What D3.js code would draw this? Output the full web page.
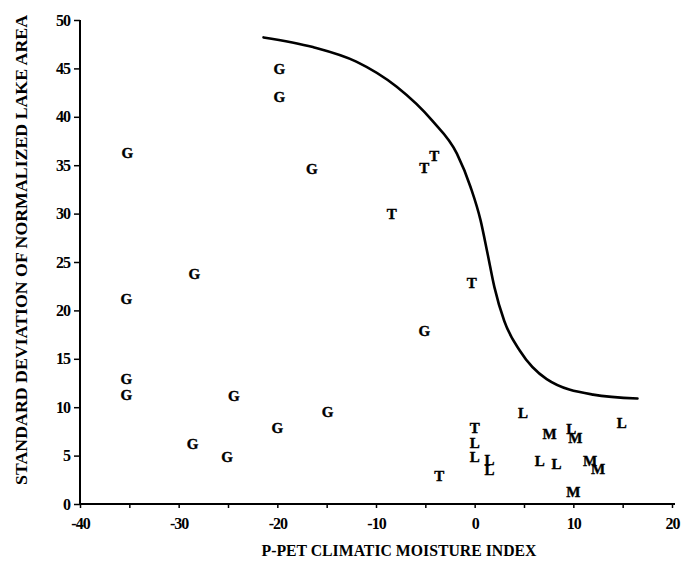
<!DOCTYPE html>
<html>
<head>
<meta charset="utf-8">
<script src="https://cdn.jsdelivr.net/npm/d3@7"></script>
<style>
  body { margin: 0; background: #fff; }
  text { font-family: "Liberation Serif", "DejaVu Serif", serif; font-weight: bold; }
</style>
</head>
<body>
<div id="chart"></div>
<script>
// site groups: letter, P-PET index, std dev of lake area
const letters = ["G","G","G","G","G","G","G","G","G","G","G","G","G","G",
                 "T","T","T","T","T","T",
                 "L","L","L","L","L","L","L","L","L",
                 "M","M","M","M","M"];
const moisture = [-19.8,-19.8,-35.2,-16.5,-28.4,-35.3,-5.1,-35.3,-35.3,-24.4,-14.9,-20.0,-28.6,-25.1,
                  -4.1,-5.1,-8.4,-0.3,0,-3.6,
                  4.9,0,0,1.5,1.5,6.6,8.3,9.8,14.9,
                  7.6,10.2,11.7,12.5,10.0];
const stdDev = [45.0,42.1,36.3,34.6,23.8,21.2,17.9,12.9,11.3,11.2,9.5,7.9,6.2,4.9,
                36.0,34.7,30.0,22.9,7.9,2.9,
                9.4,6.3,4.9,4.6,3.5,4.5,4.2,7.8,8.4,
                7.3,6.8,4.5,3.6,1.3];

// hand-drawn envelope curve
const curveX = [-21.4,-16.4,-12,-7.9,-4.3,-1.8,-0.4,0.6,1.3,2.0,3.0,4.6,7.3,12,16.5];
const curveY = [48.2,47.2,45.7,43.1,39.6,36.2,32.7,29.3,25.9,22.4,18.9,15.8,12.9,11.3,10.9];

const xTicks = [-40,-30,-20,-10,0,10,20];
const yTicks = [0,5,10,15,20,25,30,35,40,45,50];

const width = 687, height = 565;
const margin = { top: 20, right: 15, bottom: 61, left: 80 };

const svg = d3.select('#chart')
  .append('svg')
  .attr('width', width)
  .attr('height', height);

const x = d3.scaleLinear()
  .domain([-40, 20])
  .range([margin.left, width - margin.right]);

const y = d3.scaleLinear()
  .domain([0, 50])
  .range([height - margin.bottom, margin.top]);

// x axis
const xAxis = svg.append('g')
  .attr('transform', 'translate(0,' + y(0) + ')')
  .call(d3.axisBottom(x).tickValues(d3.range(-40, 21, 5)).tickSize(4)
    .tickFormat(d => xTicks.includes(d) ? d : ''));
xAxis.select('.domain').attr('d', 'M' + x(-40) + ',0H' + (x(20) + 3)).attr('stroke-width', 2.2);
xAxis.selectAll('.tick line').attr('stroke-width', 1.5);
xAxis.selectAll('.tick text')
  .attr('dy', '1.1em')
  .attr('font-size', 16)
  .attr('font-family', '"Liberation Serif", serif')
  .attr('font-weight', 'bold')
  .attr('letter-spacing', '-1px');

// y axis
const yAxis = svg.append('g')
  .attr('transform', 'translate(' + x(-40) + ',0)')
  .call(d3.axisLeft(y).tickValues(yTicks).tickSize(6).tickPadding(4));
yAxis.select('.domain').attr('d', 'M0,' + y(0) + 'V' + y(50)).attr('stroke-width', 2);
yAxis.selectAll('.tick line').attr('stroke-width', 1.5);
yAxis.selectAll('.tick text')
  .attr('font-size', 16)
  .attr('font-family', '"Liberation Serif", serif')
  .attr('font-weight', 'bold')
  .attr('letter-spacing', '-1px');

// axis titles
svg.append('text')
  .attr('x', 399)
  .attr('y', 556)
  .attr('text-anchor', 'middle')
  .attr('font-size', 16)
  .attr('textLength', 275)
  .attr('lengthAdjust', 'spacingAndGlyphs')
  .text('P-PET CLIMATIC MOISTURE INDEX');

svg.append('text')
  .attr('transform', 'translate(27,250) rotate(-90)')
  .attr('text-anchor', 'middle')
  .attr('font-size', 16)
  .attr('textLength', 470)
  .attr('lengthAdjust', 'spacingAndGlyphs')
  .text('STANDARD DEVIATION OF NORMALIZED LAKE AREA');

// envelope curve
const line = d3.line()
  .x(d => x(d[0]))
  .y(d => y(d[1]))
  .curve(d3.curveMonotoneX);

svg.append('path')
  .datum(d3.zip(curveX, curveY))
  .attr('fill', 'none')
  .attr('stroke', '#000')
  .attr('stroke-width', 2.6)
  .attr('stroke-linecap', 'round')
  .attr('d', line);

// letter markers
svg.selectAll('.pt')
  .data(d3.range(letters.length))
  .enter().append('text')
  .attr('class', 'pt')
  .attr('x', i => x(moisture[i]))
  .attr('y', i => y(stdDev[i]))
  .attr('dy', '0.35em')
  .attr('text-anchor', 'middle')
  .attr('font-size', 15)
  .attr('stroke', '#000')
  .attr('stroke-width', 0.4)
  .text(i => letters[i]);
</script>
</body>
</html>
